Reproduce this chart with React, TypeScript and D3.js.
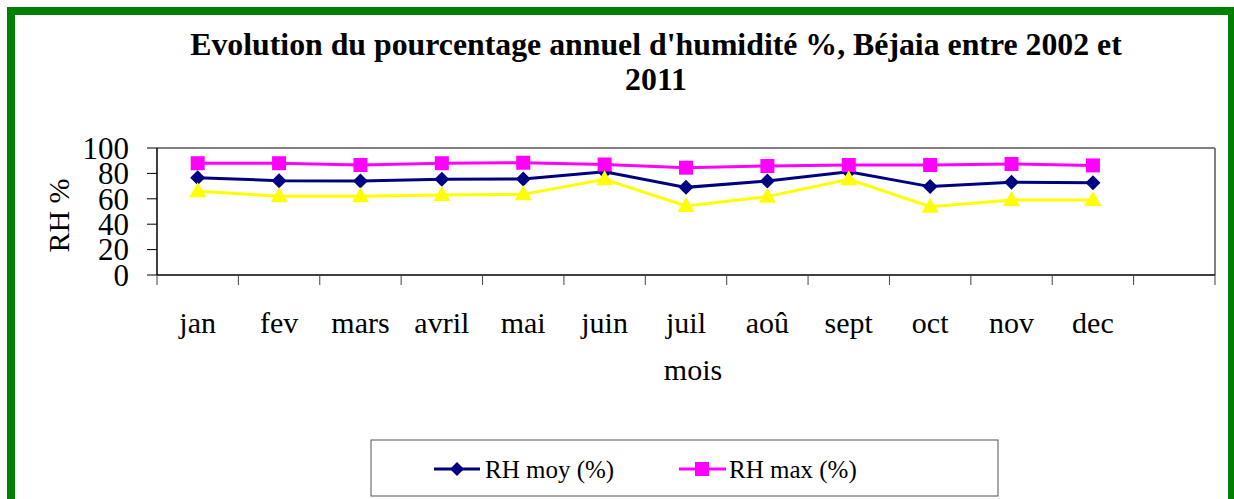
import React from "react";
import * as d3 from "d3";

const months = ["jan", "fev", "mars", "avril", "mai", "juin", "juil", "aoû", "sept", "oct", "nov", "dec", ""];
const rhMoy = [76.6, 74.3, 74, 75.3, 75.6, 81.3, 69, 74, 81.3, 69.6, 73, 72.7];
const rhMax = [88, 88, 86.6, 88, 88.4, 87, 84.5, 85.8, 86.6, 86.6, 87.4, 86.3];
const rhMin = [66, 62, 62, 63, 63.5, 75.3, 54.3, 61.7, 75.3, 53.8, 59, 59];
const yTicks = [0, 20, 40, 60, 80, 100];

const W = 1234, H = 499;
const L = 157, R = 1215, T = 148, B = 275;
const FONT = '"Liberation Serif", "Times New Roman", Tinos, "DejaVu Serif", serif';
const fs = (size: number, bold = false): React.CSSProperties => ({ fontFamily: FONT, fontSize: size, fontWeight: bold ? 700 : 400 });

export default function App() {
  const x = d3.scaleBand<string>().domain(months.map((m, i) => m + "_" + i)).range([L, R]).paddingInner(0).paddingOuter(0);
  const bw = x.bandwidth();
  const cx = (i: number) => (x(months[i] + "_" + i) as number) + bw / 2;
  const y = d3.scaleLinear().domain([0, 100]).range([B, T]);
  const line = d3.line<number>().x((_, i) => cx(i)).y((v) => y(v));

  const diamond = (px: number, py: number, r = 7.5) => `M${px},${py - r}L${px + r},${py}L${px},${py + r}L${px - r},${py}Z`;
  const tri = (px: number, py: number) => `M${px},${py - 9}L${px + 8.5},${py + 6}L${px - 8.5},${py + 6}Z`;

  const boundaries = d3.range(months.length + 1).map((i) => L + i * bw);

  return (
    <svg width={W} height={H} style={{ position: "absolute", left: 0, top: 0, background: "#fff" }}>
      <rect x={11} y={11} width={1221} height={600} fill="#fff" stroke="#008000" strokeWidth={8} />
      <text x={656} y={55} textAnchor="middle" style={fs(31.8, true)}>
        Evolution du pourcentage annuel d'humidité %, Béjaia entre 2002 et
      </text>
      <text x={656} y={90} textAnchor="middle" style={fs(31.8, true)}>2011</text>

      {/* plot area */}
      <rect x={L} y={T} width={R - L} height={B - T} fill="#fff" stroke="none" />
      <line x1={L} y1={T} x2={R} y2={T} stroke="#808080" strokeWidth={2} />
      <line x1={R} y1={T} x2={R} y2={B} stroke="#808080" strokeWidth={2} />
      <line x1={L} y1={T} x2={L} y2={B} stroke="#000" strokeWidth={1.5} />
      <line x1={L} y1={B} x2={R} y2={B} stroke="#000" strokeWidth={1.5} />
      {yTicks.map((t) => (
        <g key={t}>
          <line x1={L - 10} x2={L} y1={y(t)} y2={y(t)} stroke="#000" strokeWidth={1} />
          <text x={129} y={y(t)} dy="0.35em" textAnchor="end" style={fs(31)}>{t}</text>
        </g>
      ))}
      {boundaries.map((bx, i) => (
        <line key={i} x1={bx} x2={bx} y1={B} y2={B + 10} stroke="#444" strokeWidth={1} />
      ))}
      {months.map((m, i) => m ? (
        <text key={i} x={cx(i)} y={333} textAnchor="middle" style={fs(30)}>{m}</text>
      ) : null)}
      <text x={693} y={380} textAnchor="middle" style={fs(30)}>mois</text>
      <text transform={`translate(69,${(T + B) / 2 + 4}) rotate(-90)`} textAnchor="middle" style={fs(30)}>RH %</text>

      {/* series */}
      <path d={line(rhMoy) as string} fill="none" stroke="#000080" strokeWidth={3} />
      {rhMoy.map((v, i) => <path key={i} d={diamond(cx(i), y(v))} fill="#000080" />)}
      <path d={line(rhMax) as string} fill="none" stroke="#FF00FF" strokeWidth={3} />
      {rhMax.map((v, i) => <rect key={i} x={cx(i) - 7} y={y(v) - 7} width={14} height={14} fill="#FF00FF" />)}
      <path d={line(rhMin) as string} fill="none" stroke="#FFFF00" strokeWidth={3} />
      {rhMin.map((v, i) => <path key={i} d={tri(cx(i), y(v))} fill="#FFFF00" />)}

      {/* legend */}
      <rect x={371} y={440} width={627} height={56} fill="#fff" stroke="#555" strokeWidth={1} />
      <line x1={434} x2={480} y1={469} y2={469} stroke="#000080" strokeWidth={3} />
      <path d={diamond(457, 469, 7)} fill="#000080" />
      <text x={485} y={478} style={fs(25)}>RH moy (%)</text>
      <line x1={679} x2={726} y1={469} y2={469} stroke="#FF00FF" strokeWidth={3} />
      <rect x={695} y={462} width={14} height={14} fill="#FF00FF" />
      <text x={729} y={478} style={fs(25)}>RH max (%)</text>
    </svg>
  );
}
